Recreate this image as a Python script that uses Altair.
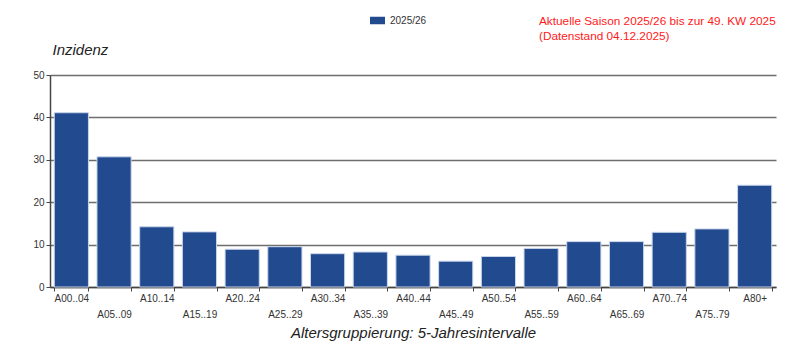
import altair as alt
import pandas as pd

groups = ["A00..04", "A05..09", "A10..14", "A15..19", "A20..24", "A25..29",
          "A30..34", "A35..39", "A40..44", "A45..49", "A50..54", "A55..59",
          "A60..64", "A65..69", "A70..74", "A75..79", "A80+"]
values = [41.1, 30.7, 14.2, 13.0, 8.9, 9.5, 7.85, 8.25, 7.5, 6.1, 7.2, 9.1,
          10.7, 10.7, 12.9, 13.7, 24.0]
season = "2025/26"
y_ticks = [0, 10, 20, 30, 40, 50]
note = ["Aktuelle Saison 2025/26 bis zur 49. KW 2025", "(Datenstand 04.12.2025)"]
y_title = "Inzidenz"
x_title = "Altersgruppierung: 5-Jahresintervalle"

df = pd.DataFrame({"group": groups, "value": values, "season": season})

group_list = "[" + ",".join("'" + g + "'" for g in groups) + "]"
label_expr = f"indexof({group_list}, datum.value) % 2 == 1 ? ['', datum.label] : datum.label"

bar_color = "#214a8f"
font = "Liberation Sans"

chart = alt.Chart(df).mark_bar(
    color=bar_color, stroke="#c9d5ea", strokeWidth=1
).encode(
    x=alt.X("group:N", sort=groups, title=x_title,
            scale=alt.Scale(paddingInner=0.2, paddingOuter=0.1),
            axis=alt.Axis(labelAngle=0, tickBand="extent", labelExpr=label_expr,
                          labelFont=font, labelFontSize=10, labelColor="#333333",
                          labelLineHeight=16, labelPadding=2,
                          domainColor="#444444", domainWidth=1.5,
                          tickColor="#444444", tickSize=4, tickWidth=1,
                          titleFont=font, titleFontSize=15, titleFontStyle="italic",
                          titleFontWeight="normal", titleColor="#222222",
                          titlePadding=6)),
    y=alt.Y("value:Q", title=y_title,
            scale=alt.Scale(domain=[0, 50], nice=False),
            axis=alt.Axis(values=y_ticks, grid=True, gridColor="#6e6e6e", gridWidth=1.5,
                          domainColor="#444444", domainWidth=1.5,
                          tickColor="#444444", tickSize=4,
                          labelFont=font, labelFontSize=10, labelColor="#333333",
                          labelPadding=2,
                          titleAngle=0, titleAlign="left", titleBaseline="alphabetic",
                          titleX=2, titleY=-21,
                          titleFont=font, titleFontSize=15, titleFontStyle="italic",
                          titleFontWeight="normal", titleColor="#222222")),
    color=alt.Color("season:N", scale=alt.Scale(domain=[season], range=[bar_color]),
                    legend=alt.Legend(title=None, orient="none", legendX=320, legendY=-62,
                                      symbolType="M-1,-0.5H1V0.5H-1Z", symbolSize=225,
                                      symbolStrokeWidth=0, labelFont=font,
                                      labelFontSize=10, labelColor="#333333",
                                      labelOffset=5)),
).properties(
    width=726, height=212,
    title=alt.TitleParams(text=note, color="#ff1a1a", fontSize=11.8, font=font,
                          fontWeight="normal", anchor="start", frame="group",
                          baseline="bottom",
                          dx=489, offset=-41, lineHeight=15),
    autosize=alt.AutoSizeParams(type="none"),
    padding={"left": 50, "top": 75, "right": 24, "bottom": 68},
).configure_view(stroke=None)

chart.save("out.html", embed_options={"renderer": "svg", "actions": False})
